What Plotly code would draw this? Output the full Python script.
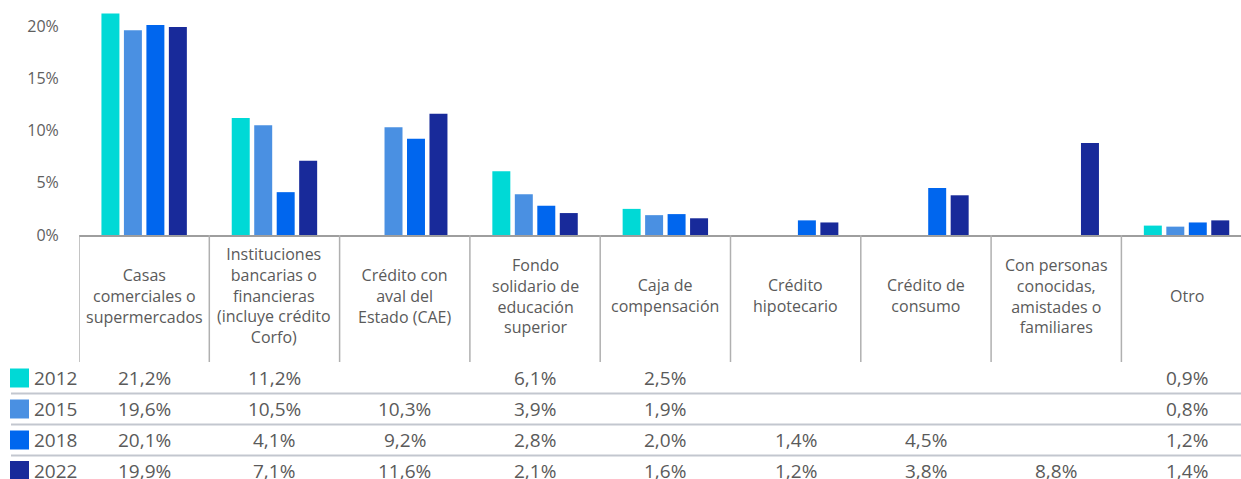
import plotly.graph_objects as go

categories = [
    "Casas<br>comerciales o<br>supermercados",
    "Instituciones<br>bancarias o<br>financieras<br>(incluye crédito<br>Corfo)",
    "Crédito con<br>aval del<br>Estado (CAE)",
    "Fondo<br>solidario de<br>educación<br>superior",
    "Caja de<br>compensación",
    "Crédito<br>hipotecario",
    "Crédito de<br>consumo",
    "Con personas<br>conocidas,<br>amistades o<br>familiares",
    "Otro",
]
years = ["2012", "2015", "2018", "2022"]
v2012 = [21.2, 11.2, None, 6.1, 2.5, None, None, None, 0.9]
v2015 = [19.6, 10.5, 10.3, 3.9, 1.9, None, None, None, 0.8]
v2018 = [20.1, 4.1, 9.2, 2.8, 2.0, 1.4, 4.5, None, 1.2]
v2022 = [19.9, 7.1, 11.6, 2.1, 1.6, 1.2, 3.8, 8.8, 1.4]
y_ticks = [0, 5, 10, 15, 20]
y_tick_labels = ["0%", "5%", "10%", "15%", "20%"]
colors = ["#00D9D6", "#4A90E2", "#0066EE", "#182A9A"]

series = [v2012, v2015, v2018, v2022]

W, H = 1241, 479
L, B_AX = 79, 235  # plot left edge px, axis baseline px
PW, PH = W - L, B_AX


def px_x(p):
    return (p - L) / PW


def px_y(p):
    return (B_AX - p) / PH


TXT = "#5a5a5a"
FONT = "Open Sans"

fig = go.Figure()
idx = list(range(len(categories)))
for yr, vals, col in zip(years, series, colors):
    fig.add_trace(go.Bar(x=idx, y=vals, name=yr, marker_color=col,
                         marker_line_width=0, showlegend=False))

annotations = []
shapes = []

# category labels
for i, c in enumerate(categories):
    annotations.append(dict(x=i, y=px_y(295.5), xref="x", yref="paper", text=c,
                            showarrow=False, xanchor="center", yanchor="middle",
                            font=dict(family=FONT, size=16, color=TXT)))
# vertical dividers
for i in range(len(categories)):
    shapes.append(dict(type="line", xref="x", yref="paper", x0=i - 0.5, x1=i - 0.5,
                       y0=px_y(235), y1=px_y(362), line=dict(color="#b0b0b0", width=1.5)))

# table rows
row_y = [378, 409, 440, 470.5]
for r, (yr, vals, col) in enumerate(zip(years, series, colors)):
    yc = row_y[r]
    shapes.append(dict(type="rect", xref="paper", yref="paper",
                       x0=px_x(10), x1=px_x(29), y0=px_y(yc - 9.5), y1=px_y(yc + 9.5),
                       fillcolor=col, line=dict(width=0)))
    annotations.append(dict(x=px_x(32), y=px_y(yc), xref="paper", yref="paper", text=yr,
                            showarrow=False, xanchor="left", yanchor="middle",
                            font=dict(family=FONT, size=19, color=TXT)))
    for i, v in enumerate(vals):
        if v is None:
            continue
        annotations.append(dict(x=i, y=px_y(yc), xref="x", yref="paper",
                                text=f"{v:.1f}%".replace(".", ","),
                                showarrow=False, xanchor="center", yanchor="middle",
                                font=dict(family=FONT, size=19, color=TXT)))
# row separators
for sy in [393.5, 424.5, 455.5]:
    shapes.append(dict(type="line", xref="paper", yref="paper", x0=px_x(11), x1=1,
                       y0=px_y(sy), y1=px_y(sy), line=dict(color="#c3c7cf", width=2)))

fig.update_layout(
    width=W, height=H,
    margin=dict(l=L, r=0, t=0, b=H - B_AX, pad=0),
    plot_bgcolor="white", paper_bgcolor="white",
    barmode="group", bargap=0.31, bargroupgap=0.2,
    annotations=annotations, shapes=shapes,
    font=dict(family=FONT, color=TXT),
)
fig.update_xaxes(range=[-0.5, -0.5 + PW / 130.3], showticklabels=False, ticks="",
                 showgrid=False, zeroline=False, showline=True,
                 linecolor="#9e9e9e", linewidth=2)
fig.update_yaxes(range=[0, PH / 10.45], tickmode="array", tickvals=y_ticks,
                 ticktext=y_tick_labels,
                 showgrid=False, zeroline=False, showline=False,
                 ticks="outside", ticklen=16, tickcolor="rgba(0,0,0,0)",
                 tickfont=dict(family=FONT, size=16, color="#5f5f5f"))

fig.write_html("out.html")
